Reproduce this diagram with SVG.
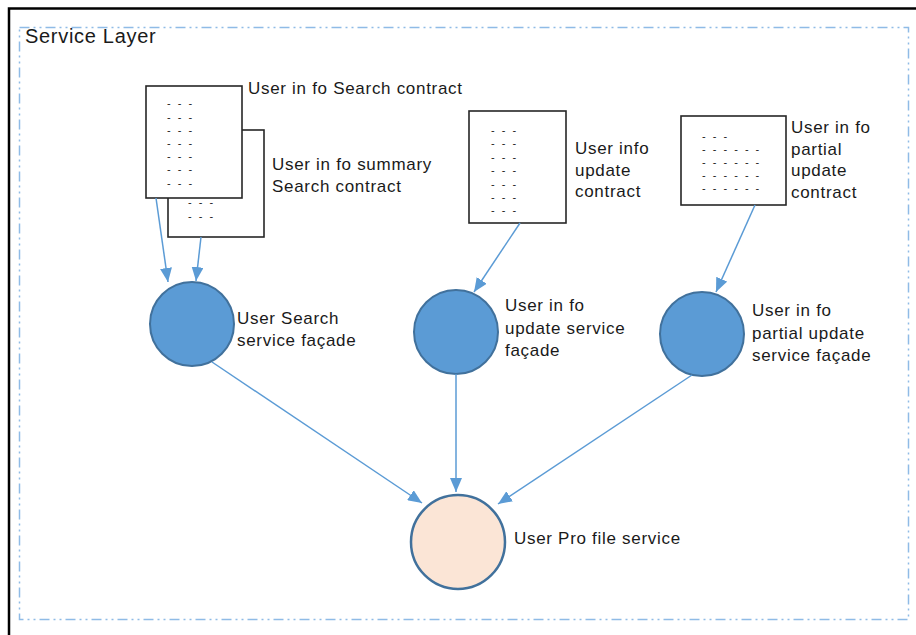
<svg xmlns="http://www.w3.org/2000/svg" width="916" height="635" viewBox="0 0 916 635">
<style>
.t{font-family:"Liberation Sans",Arial,sans-serif;font-size:17px;letter-spacing:0.7px;fill:#1a1a1a}
.box{fill:#fff;stroke:#262626;stroke-width:1.6}
.dots{font-family:"Liberation Sans",Arial,sans-serif;font-size:11px;fill:#1a1a1a;letter-spacing:2px}
.svc{fill:#5b9bd5;stroke:#41719c;stroke-width:2}
.core{fill:#fbe5d6;stroke:#41719c;stroke-width:2.5}
.c{stroke:#5b9bd5;stroke-width:1.5;fill:none;marker-end:url(#ah)}
</style>
<defs>
<marker id="ah" viewBox="0 0 14 12" refX="14" refY="6" markerWidth="14" markerHeight="12" markerUnits="userSpaceOnUse" orient="auto">
<path d="M0,0 L14,6 L0,12 z" fill="#5b9bd5"/>
</marker>
</defs>
<rect width="916" height="635" fill="#fff"/>
<path d="M9,635 V8.5 H916" fill="none" stroke="#000" stroke-width="2.5"/>
<rect x="19.5" y="27.5" width="889" height="592" fill="none" stroke="#8fbbe6" stroke-width="1.5" stroke-dasharray="10 4 2 4 2 4"/>
<text class="t" x="25" y="43" style="font-size:20px">Service Layer</text>

<g id="contract-summary">
<rect class="box" x="168" y="130" width="96" height="107"/>
<text class="dots" x="188" y="206">- - -</text>
<text class="dots" x="188" y="220">- - -</text>
<text class="t" x="272" y="170">User in fo summary</text>
<text class="t" x="272" y="192">Search contract</text>
</g>
<g id="contract-search">
<rect class="box" x="146" y="86" width="96" height="112"/>
<text class="dots" x="167" y="107">- - -</text>
<text class="dots" x="167" y="121">- - -</text>
<text class="dots" x="167" y="134">- - -</text>
<text class="dots" x="167" y="147">- - -</text>
<text class="dots" x="167" y="160">- - -</text>
<text class="dots" x="167" y="173">- - -</text>
<text class="dots" x="167" y="187">- - -</text>
<text class="t" x="248" y="94">User in fo Search contract</text>
</g>
<g id="contract-update">
<rect class="box" x="469" y="111" width="97" height="112"/>
<text class="dots" x="491" y="134">- - -</text>
<text class="dots" x="491" y="147">- - -</text>
<text class="dots" x="491" y="161">- - -</text>
<text class="dots" x="491" y="174">- - -</text>
<text class="dots" x="491" y="188">- - -</text>
<text class="dots" x="491" y="201">- - -</text>
<text class="dots" x="491" y="214">- - -</text>
<text class="t" x="575" y="154">User info</text>
<text class="t" x="575" y="176">update</text>
<text class="t" x="575" y="197">contract</text>
</g>
<g id="contract-partial">
<rect class="box" x="681" y="116" width="105" height="89"/>
<text class="dots" x="702" y="140">- - -</text>
<text class="dots" x="702" y="153">- - - - - -</text>
<text class="dots" x="702" y="166">- - - - - -</text>
<text class="dots" x="702" y="179">- - - - - -</text>
<text class="dots" x="702" y="192">- - - - - -</text>
<text class="t" x="791" y="133">User in fo</text>
<text class="t" x="791" y="155">partial</text>
<text class="t" x="791" y="176">update</text>
<text class="t" x="791" y="198">contract</text>
</g>

<g id="facade-search">
<circle class="svc" cx="192" cy="324" r="42"/>
<text class="t" x="237" y="324">User Search</text>
<text class="t" x="237" y="346">service façade</text>
</g>
<g id="facade-update">
<circle class="svc" cx="456" cy="332" r="42"/>
<text class="t" x="505" y="311">User in fo</text>
<text class="t" x="505" y="334">update service</text>
<text class="t" x="505" y="356">façade</text>
</g>
<g id="facade-partial">
<circle class="svc" cx="702" cy="334" r="42"/>
<text class="t" x="752" y="316">User in fo</text>
<text class="t" x="752" y="339">partial update</text>
<text class="t" x="752" y="361">service façade</text>
</g>
<g id="profile-service">
<circle class="core" cx="458" cy="542" r="47"/>
<text class="t" x="514" y="544">User Pro file service</text>
</g>

<g id="connectors">
<line class="c" x1="156" y1="198" x2="168" y2="282"/>
<line class="c" x1="201" y1="237" x2="196" y2="281"/>
<line class="c" x1="520" y1="223" x2="474" y2="292"/>
<line class="c" x1="755" y1="205" x2="716" y2="292"/>
<line class="c" x1="212" y1="362" x2="422" y2="503"/>
<line class="c" x1="456" y1="374" x2="456" y2="492"/>
<line class="c" x1="692" y1="375" x2="498" y2="504"/>
</g>
</svg>
